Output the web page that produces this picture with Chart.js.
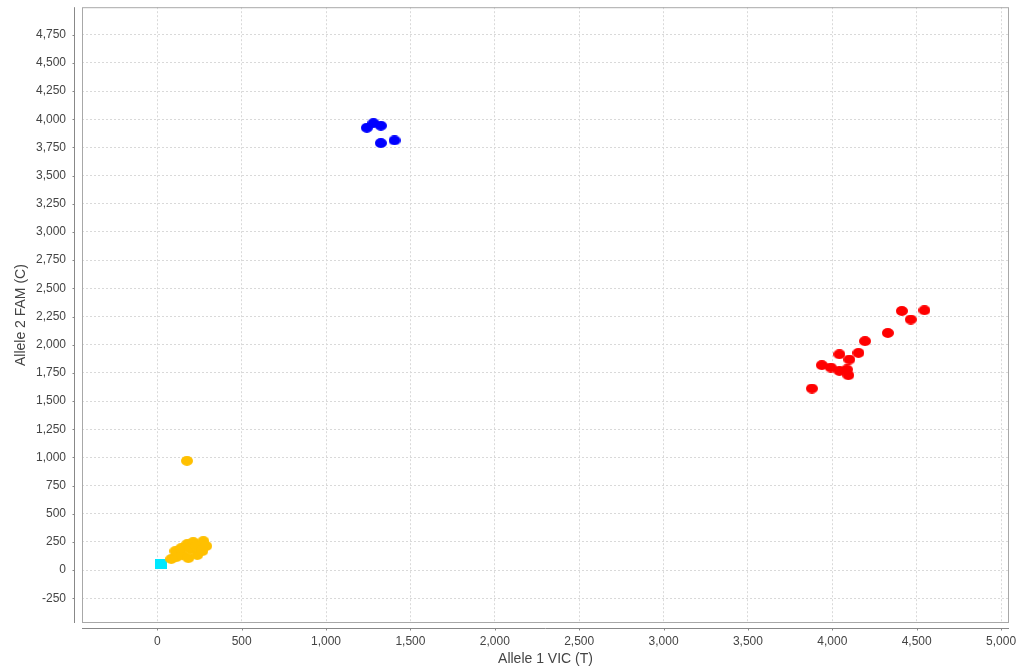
<!DOCTYPE html>
<html>
<head>
<meta charset="utf-8">
<script src="https://cdn.jsdelivr.net/npm/chart.js@4.4.0/dist/chart.umd.min.js"></script>
<style>
  html,body{margin:0;padding:0;background:#fff;overflow:hidden}
  canvas{display:block}
</style>
</head>
<body>
<canvas id="plot" width="1029" height="669"></canvas>
<script>
// Allele discrimination values (x = VIC, y = FAM)
const homTX = [3879, 3938, 3991, 4042, 4086, 4095, 4042, 4101, 4155, 4194, 4329, 4412, 4465, 4546];
const homTY = [1611, 1818, 1797, 1767, 1780, 1729, 1915, 1868, 1927, 2031, 2104, 2299, 2223, 2305];
const homCX = [1242, 1281, 1325, 1325, 1406];
const homCY = [3925, 3966, 3943, 3789, 3813];
const undetX = [83, 113, 107, 148, 142, 178, 196, 213, 184, 231, 237, 273, 267, 290, 176];
const undetY = [98, 115, 168, 133, 195, 231, 186, 248, 106, 213, 133, 257, 168, 213, 969];
const ntcX = [24];
const ntcY = [53];

const xTicks = [0, 500, 1000, 1500, 2000, 2500, 3000, 3500, 4000, 4500, 5000];
const yTicks = [-250, 0, 250, 500, 750, 1000, 1250, 1500, 1750, 2000, 2250, 2500, 2750, 3000, 3250, 3500, 3750, 4000, 4250, 4500, 4750];

function pts(xs, ys){ return xs.map((x,i)=>({x:x, y:ys[i]})); }

// marker images: flat ellipses and a small square
function marker(color, round){
  const c = document.createElement('canvas');
  c.width = 12; c.height = 10;
  const g = c.getContext('2d');
  g.fillStyle = color;
  if(round){ g.beginPath(); g.ellipse(6,5,6,5,0,0,Math.PI*2); g.fill(); }
  else g.fillRect(0,0,12,10);
  return c;
}

// plot box + offset axis lines with small outward ticks
const frame = {
  id:'frame',
  afterDraw(chart){
    const {ctx, chartArea:a, scales:{x, y}} = chart;
    ctx.save();
    ctx.lineWidth = 1;
    ctx.strokeStyle = '#a8a8a8';
    ctx.strokeRect(a.left+.5, a.top+.5, a.right-a.left-1, a.bottom-a.top-1);
    ctx.strokeStyle = '#888';
    ctx.beginPath();
    const ax = a.left - 8 + .5, ay = a.bottom + 5 + .5;
    ctx.moveTo(ax, a.top); ctx.lineTo(ax, a.bottom);
    y.ticks.forEach(t=>{
      const p = Math.round(y.getPixelForValue(t.value)) + .5;
      ctx.moveTo(ax-2, p); ctx.lineTo(ax, p);
    });
    ctx.moveTo(a.left, ay); ctx.lineTo(a.right, ay);
    x.ticks.forEach(t=>{
      const p = Math.round(x.getPixelForValue(t.value)) + .5;
      ctx.moveTo(p, ay); ctx.lineTo(p, ay+2);
    });
    ctx.stroke();
    ctx.restore();
  }
};

const tickFont = {family:'"Liberation Sans", Arial, sans-serif', size:12};
const titleFont = {family:'"Liberation Sans", Arial, sans-serif', size:14};
const fmt = v => Number(v).toLocaleString('en-US');

new Chart(document.getElementById('plot').getContext('2d'), {
  type:'scatter',
  data:{
    datasets:[
      {label:'Allele 1', data:pts(homTX, homTY), pointStyle:marker('#ff0000', true)},
      {label:'Allele 2', data:pts(homCX, homCY), pointStyle:marker('#0000ff', true)},
      {label:'Undetermined', data:pts(undetX, undetY), pointStyle:marker('#ffc000', true)},
      {label:'NTC', data:pts(ntcX, ntcY), pointStyle:marker('#00e8ff', false)}
    ]
  },
  options:{
    responsive:false,
    animation:false,
    events:[],
    layout:{padding:{top:7, right:20, left:0, bottom:0}},
    plugins:{legend:{display:false}, tooltip:{enabled:false}},
    scales:{
      x:{
        type:'linear', min:-446, max:5047,
        afterBuildTicks: s => { s.ticks = xTicks.map(v=>({value:v})); },
        afterFit: s => { s.height = 46; },
        grid:{color:'#d9d9d9', drawTicks:true, tickLength:11, tickColor:'rgba(0,0,0,0)'},
        border:{display:false, dash:[2,2]},
        ticks:{font:tickFont, color:'#444', padding:0, maxRotation:0, autoSkip:false, callback:fmt},
        title:{display:true, text:'Allele 1 VIC (T)', font:titleFont, color:'#444', padding:{top:0, bottom:1}}
      },
      y:{
        type:'linear', min:-470, max:4995,
        afterBuildTicks: s => { s.ticks = yTicks.map(v=>({value:v})); },
        afterFit: s => { s.width = 82; },
        grid:{color:'#d9d9d9', drawTicks:true, tickLength:16, tickColor:'rgba(0,0,0,0)'},
        border:{display:false, dash:[2,2]},
        ticks:{font:tickFont, color:'#444', padding:0, autoSkip:false, callback:fmt},
        title:{display:true, text:'Allele 2 FAM (C)', font:titleFont, color:'#444', padding:{top:13, bottom:0}}
      }
    }
  },
  plugins:[frame]
});
</script>
</body>
</html>
